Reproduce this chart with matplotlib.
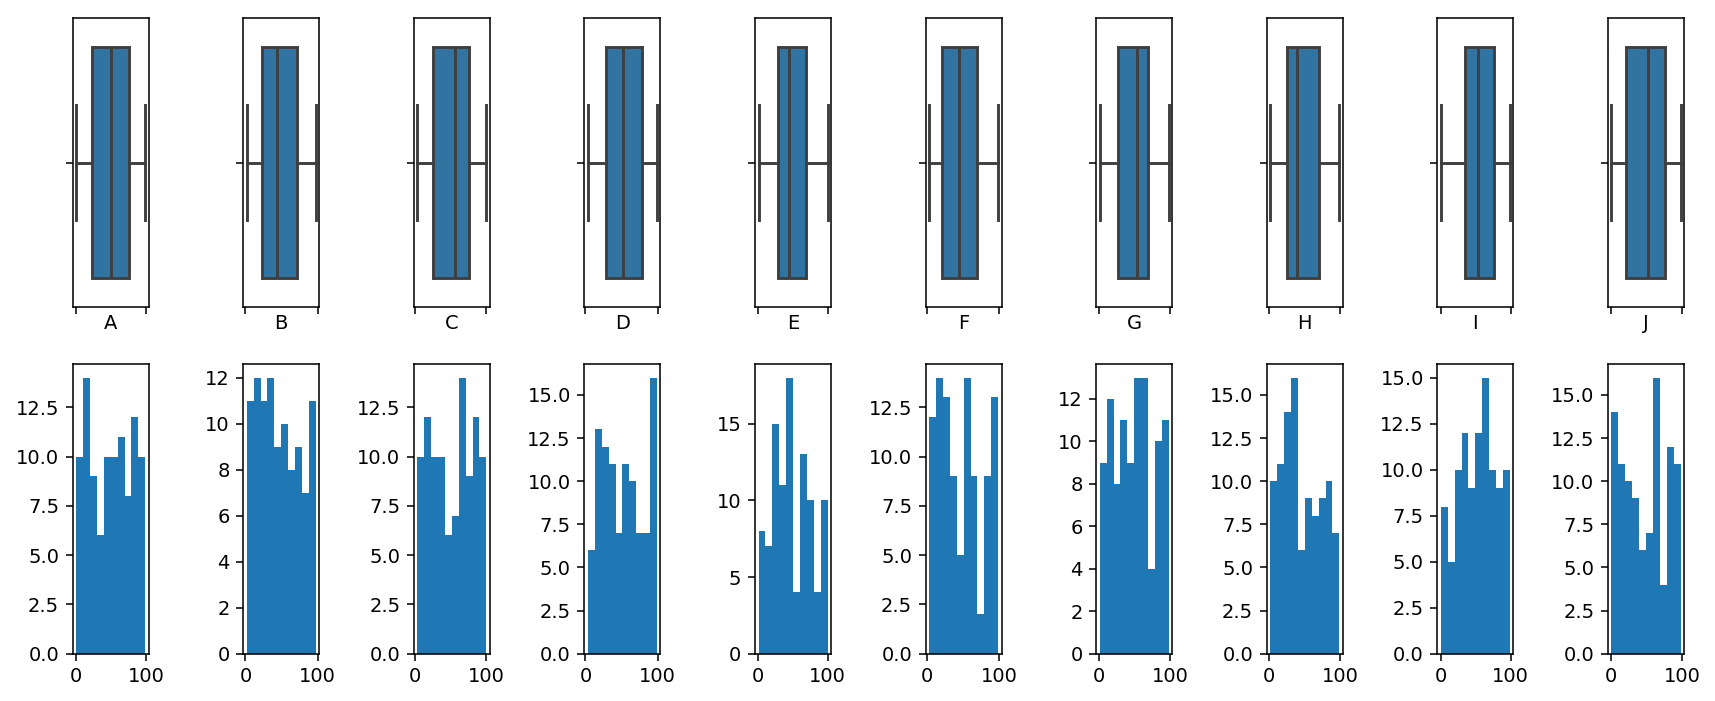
import numpy as np
import matplotlib.pyplot as plt

# kolumny i statystyki pudełek
kolumny = ["A", "B", "C", "D", "E", "F", "G", "H", "I", "J"]
minima = [0.5, 1.9, 3.8, 3.4, 0.5, 3.4, 0.5, 2.4, 0.5, 0.5]
q1 = [22.8, 22.9, 26.0, 28.5, 28.2, 21.3, 26.7, 26.0, 34.3, 21.0]
mediany = [50.0, 43.3, 55.8, 51.7, 45.0, 44.4, 52.4, 40.0, 53.0, 52.4]
q3 = [76.0, 71.9, 76.0, 78.7, 69.4, 70.0, 69.0, 70.2, 75.8, 76.2]
maksima = [99.0, 97.6, 99.9, 99.0, 99.8, 99.0, 97.6, 99.0, 99.0, 97.6]

# liczebności w 10 przedziałach histogramu
liczebnosci = [
    [10, 14, 9, 6, 10, 10, 11, 8, 12, 10],
    [11, 12, 11, 12, 9, 10, 8, 9, 7, 11],
    [10, 12, 10, 10, 6, 7, 14, 9, 12, 10],
    [6, 13, 12, 11, 7, 11, 10, 7, 7, 16],
    [8, 7, 15, 11, 18, 4, 13, 10, 4, 10],
    [12, 14, 13, 9, 5, 14, 9, 2, 9, 13],
    [9, 12, 8, 11, 9, 13, 13, 4, 10, 11],
    [10, 11, 14, 16, 6, 9, 8, 9, 10, 7],
    [8, 5, 10, 12, 9, 12, 15, 10, 9, 10],
    [14, 11, 10, 9, 6, 7, 16, 4, 12, 11],
]

kolor_pudla = "#3274a1"
kolor_linii = "#3f3f3f"
DPI = 140

fig, axes = plt.subplots(2, 10, figsize=(1715 / DPI, 701 / DPI), dpi=DPI)
fig.subplots_adjust(left=0.0424, right=0.9819, top=0.9748, bottom=0.0675,
                    wspace=1.246, hspace=0.195)

for i, nazwa in enumerate(kolumny):
    # górny rząd: wykres pudełkowy
    ax = axes[0, i]
    stats = [{
        "whislo": minima[i], "q1": q1[i], "med": mediany[i],
        "q3": q3[i], "whishi": maksima[i], "fliers": [],
    }]
    linia = dict(color=kolor_linii, linewidth=1.5)
    ax.bxp(stats, positions=[0], widths=0.8, vert=False, patch_artist=True,
           showfliers=False,
           boxprops=dict(facecolor=kolor_pudla, edgecolor=kolor_linii, linewidth=1.5),
           medianprops=linia, whiskerprops=linia, capprops=linia)
    ax.set_ylim(0.5, -0.5)
    ax.set_yticks([0])
    ax.tick_params(axis="y", labelleft=False)
    ax.set_xticks([0, 100])
    ax.tick_params(axis="x", labelbottom=False)
    ax.set_xlabel(nazwa, labelpad=0)

    # dolny rząd: histogram
    ax = axes[1, i]
    krawedzie = np.linspace(minima[i], maksima[i], 11)
    ax.hist(krawedzie[:-1], bins=krawedzie, weights=liczebnosci[i], color="#1f77b4")
    ax.set_xticks([0, 100])

plt.savefig("out.png", dpi=DPI)
